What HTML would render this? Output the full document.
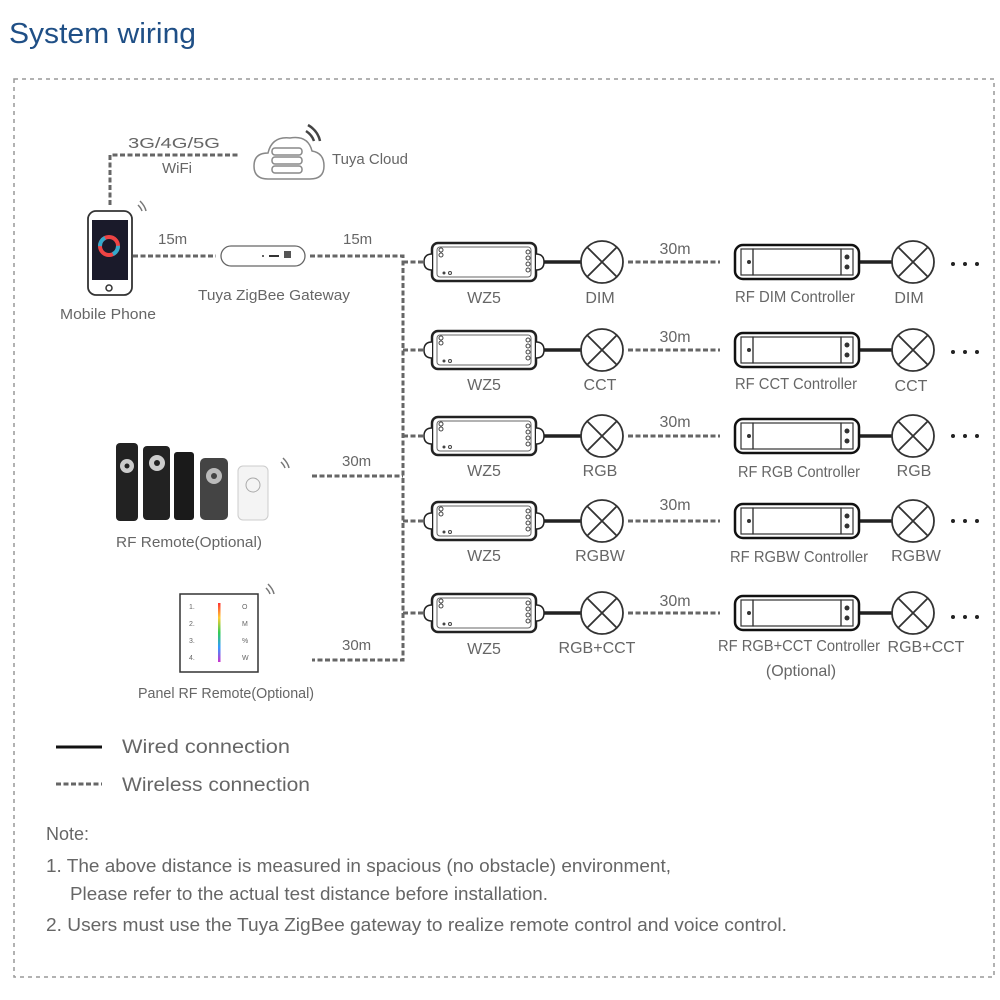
<!DOCTYPE html>
<html><head><meta charset="utf-8"><style>
html,body{margin:0;padding:0;background:#fff;}
svg{display:block;}
text{font-family:"Liberation Sans",sans-serif;fill:#666;}
</style></head><body>
<svg width="1000" height="1000" viewBox="0 0 1000 1000" xmlns="http://www.w3.org/2000/svg">
<defs>
<g id="wz5">
  <rect x="-52" y="-19" width="104" height="38" rx="6" fill="#fff" stroke="#222" stroke-width="2.5"/>
  <rect x="-47" y="-15" width="94" height="30" rx="3" fill="none" stroke="#666" stroke-width="1"/>
  <path d="M-52 -8 q-8 0 -8 8 q0 8 8 8" fill="#fff" stroke="#222" stroke-width="1.5"/>
  <path d="M52 -8 q8 0 8 8 q0 8 -8 8" fill="#fff" stroke="#222" stroke-width="1.5"/>
  <circle cx="-43" cy="-12" r="2" fill="none" stroke="#444"/><circle cx="-43" cy="-7" r="2" fill="none" stroke="#444"/>
  <circle cx="-40" cy="11" r="1.5" fill="#444"/><circle cx="-34" cy="11" r="1.5" fill="none" stroke="#444"/>
  <circle cx="44" cy="-10" r="2" fill="none" stroke="#444"/><circle cx="44" cy="-4" r="2" fill="none" stroke="#444"/><circle cx="44" cy="2" r="2" fill="none" stroke="#444"/><circle cx="44" cy="8" r="2" fill="none" stroke="#444"/>
</g>
<g id="lamp">
  <circle r="21" fill="#fff" stroke="#333" stroke-width="1.8"/>
  <path d="M-15 -15 L15 15 M15 -15 L-15 15" stroke="#333" stroke-width="1.8"/>
</g>
<g id="ctl">
  <rect x="-62" y="-17" width="124" height="34" rx="8" fill="#fff" stroke="#111" stroke-width="2.5"/>
  <rect x="-44" y="-13" width="88" height="26" fill="none" stroke="#333" stroke-width="1.2"/>
  <rect x="-56" y="-13" width="12" height="26" fill="none" stroke="#333" stroke-width="1.2"/>
  <rect x="44" y="-13" width="12" height="26" fill="none" stroke="#333" stroke-width="1.2"/>
  <circle cx="-48" cy="0" r="2" fill="#333"/>
  <circle cx="50" cy="-5" r="2.5" fill="#333"/><circle cx="50" cy="5" r="2.5" fill="#333"/>
</g>
</defs>

<text x="9" y="43" font-size="29" style="fill:#1f4f86" textLength="187" lengthAdjust="spacingAndGlyphs">System wiring</text>
<rect x="14" y="79" width="980" height="898" fill="none" stroke="#999" stroke-width="1.5" stroke-dasharray="4,4"/>

<!-- dashed connectors -->
<g stroke="#666" stroke-width="3" stroke-dasharray="5,2.5" fill="none">
  <path d="M110 205 L110 155 L240 155"/>
  <path d="M133 256 L216 256"/>
  <path d="M310 256 L403 256 L403 660 L312 660"/>
  <path d="M312 476 L403 476"/>
  <path d="M403 262 L425 262 M403 350 L425 350 M403 436 L425 436 M403 521 L425 521 M403 613 L425 613"/>
  <path d="M628 262 L720 262 M628 350 L720 350 M628 436 L720 436 M628 521 L720 521 M628 613 L720 613"/>
  <path d="M56 784 L102 784"/>
</g>

<!-- cloud -->
<g fill="none" stroke="#888" stroke-width="1.5">
  <path d="M268 179 q-14 0 -14 -13 q0 -13 14 -13 q4 -17 22 -15 q18 -3 22 13 q12 2 12 15 q0 13 -14 13 z"/>
  <rect x="272" y="148" width="30" height="7" rx="3"/><rect x="272" y="157" width="30" height="7" rx="3"/><rect x="272" y="166" width="30" height="7" rx="3"/>
  <path d="M306 131 q6 4 8 10 M308 125 q10 6 12 16" stroke="#444" stroke-width="2.5"/>
</g>
<text x="128" y="148" font-size="15" textLength="92" lengthAdjust="spacingAndGlyphs">3G/4G/5G</text>
<text x="162" y="173" font-size="15">WiFi</text>
<text x="332" y="164" font-size="15" textLength="76" lengthAdjust="spacingAndGlyphs">Tuya Cloud</text>

<!-- phone -->
<rect x="88" y="211" width="44" height="84" rx="8" fill="#fff" stroke="#333" stroke-width="1.8"/>
<rect x="92" y="220" width="36" height="60" fill="#1a1a2a"/>
<circle cx="109" cy="246" r="9" fill="none" stroke="#e44" stroke-width="4"/>
<circle cx="109" cy="246" r="9" fill="none" stroke="#3ac" stroke-width="4" stroke-dasharray="10,18"/>
<circle cx="109" cy="288" r="3" fill="none" stroke="#333" stroke-width="1.5"/>
<path d="M138 205 q3 3 4 6 M140 201 q5 5 6 10" stroke="#777" stroke-width="1.5" fill="none"/>
<text x="60" y="319" font-size="15" textLength="96" lengthAdjust="spacingAndGlyphs">Mobile Phone</text>
<text x="158" y="244" font-size="15">15m</text>
<text x="343" y="244" font-size="15">15m</text>

<!-- gateway -->
<rect x="221" y="246" width="84" height="20" rx="10" fill="#fff" stroke="#666" stroke-width="1.3"/>
<rect x="284" y="251" width="7" height="7" fill="#555"/>
<path d="M269 256 L279 256" stroke="#333" stroke-width="2"/><circle cx="263" cy="256" r="1" fill="#333"/>
<text x="198" y="300" font-size="15" textLength="152" lengthAdjust="spacingAndGlyphs">Tuya ZigBee Gateway</text>

<!-- rows -->
<g>
<use href="#wz5" x="484" y="262"/><use href="#wz5" x="484" y="350"/><use href="#wz5" x="484" y="436"/><use href="#wz5" x="484" y="521"/><use href="#wz5" x="484" y="613"/>
<g stroke="#222" stroke-width="3.5">
<path d="M544 262 H581 M544 350 H581 M544 436 H581 M544 521 H581 M544 613 H581"/>
<path d="M860 262 H892 M860 350 H892 M860 436 H892 M860 521 H892 M860 613 H892"/>
</g>
<use href="#lamp" x="602" y="262"/><use href="#lamp" x="602" y="350"/><use href="#lamp" x="602" y="436"/><use href="#lamp" x="602" y="521"/><use href="#lamp" x="602" y="613"/>
<use href="#ctl" x="797" y="262"/><use href="#ctl" x="797" y="350"/><use href="#ctl" x="797" y="436"/><use href="#ctl" x="797" y="521"/><use href="#ctl" x="797" y="613"/>
<use href="#lamp" x="913" y="262"/><use href="#lamp" x="913" y="350"/><use href="#lamp" x="913" y="436"/><use href="#lamp" x="913" y="521"/><use href="#lamp" x="913" y="613"/>
<g fill="#222">
<circle cx="953" cy="264" r="2"/><circle cx="965" cy="264" r="2"/><circle cx="977" cy="264" r="2"/>
<circle cx="953" cy="352" r="2"/><circle cx="965" cy="352" r="2"/><circle cx="977" cy="352" r="2"/>
<circle cx="953" cy="436" r="2"/><circle cx="965" cy="436" r="2"/><circle cx="977" cy="436" r="2"/>
<circle cx="953" cy="521" r="2"/><circle cx="965" cy="521" r="2"/><circle cx="977" cy="521" r="2"/>
<circle cx="953" cy="617" r="2"/><circle cx="965" cy="617" r="2"/><circle cx="977" cy="617" r="2"/>
</g>
</g>
<g font-size="16" text-anchor="middle">
<text x="484" y="303">WZ5</text><text x="484" y="390">WZ5</text><text x="484" y="476">WZ5</text><text x="484" y="561">WZ5</text><text x="484" y="654">WZ5</text>
<text x="600" y="303">DIM</text><text x="600" y="390">CCT</text><text x="600" y="476">RGB</text><text x="600" y="561">RGBW</text><text x="597" y="653">RGB+CCT</text>
<text x="675" y="254">30m</text><text x="675" y="342">30m</text><text x="675" y="427">30m</text><text x="675" y="510">30m</text><text x="675" y="606">30m</text>
<text x="795" y="302" textLength="120" lengthAdjust="spacingAndGlyphs">RF DIM Controller</text>
<text x="796" y="389" textLength="122" lengthAdjust="spacingAndGlyphs">RF CCT Controller</text>
<text x="799" y="477" textLength="122" lengthAdjust="spacingAndGlyphs">RF RGB Controller</text>
<text x="799" y="562" textLength="138" lengthAdjust="spacingAndGlyphs">RF RGBW Controller</text>
<text x="799" y="651" textLength="162" lengthAdjust="spacingAndGlyphs">RF RGB+CCT Controller</text>
<text x="801" y="676">(Optional)</text>
<text x="909" y="303">DIM</text><text x="911" y="391">CCT</text><text x="914" y="476">RGB</text><text x="916" y="561">RGBW</text><text x="926" y="652">RGB+CCT</text>
</g>

<!-- RF remotes -->
<g>
<rect x="116" y="443" width="22" height="78" rx="4" fill="#222"/><circle cx="127" cy="466" r="7" fill="#ccc"/><circle cx="127" cy="466" r="2.5" fill="#222"/>
<rect x="143" y="446" width="27" height="74" rx="4" fill="#222"/><circle cx="157" cy="463" r="8" fill="#ccc"/><circle cx="157" cy="463" r="3" fill="#222"/>
<rect x="174" y="452" width="20" height="68" rx="3" fill="#1a1a1a"/>
<rect x="200" y="458" width="28" height="62" rx="5" fill="#444"/><circle cx="214" cy="476" r="8" fill="#bbb"/><circle cx="214" cy="476" r="3" fill="#444"/>
<rect x="238" y="466" width="30" height="54" rx="5" fill="#f4f4f4" stroke="#ccc"/><circle cx="253" cy="485" r="7" fill="none" stroke="#aaa"/>
<path d="M281 462 q3 3 4 6 M283 458 q5 5 6 10" stroke="#777" stroke-width="1.5" fill="none"/>
</g>
<text x="116" y="547" font-size="15" textLength="146" lengthAdjust="spacingAndGlyphs">RF Remote(Optional)</text>
<text x="342" y="466" font-size="15">30m</text>

<!-- panel remote -->
<rect x="180" y="594" width="78" height="78" fill="#fff" stroke="#333" stroke-width="1.5"/>
<defs><linearGradient id="rb" x1="0" y1="0" x2="0" y2="1"><stop offset="0" stop-color="#f33"/><stop offset="0.25" stop-color="#fc3"/><stop offset="0.5" stop-color="#3c5"/><stop offset="0.75" stop-color="#39f"/><stop offset="1" stop-color="#c3c"/></linearGradient></defs>
<rect x="218" y="603" width="2.5" height="59" fill="url(#rb)"/>
<g font-size="7" style="fill:#333"><text x="189" y="609">1.</text><text x="189" y="626">2.</text><text x="189" y="643">3.</text><text x="189" y="660">4.</text>
<text x="242" y="609">O</text><text x="242" y="626">M</text><text x="242" y="643">%</text><text x="242" y="660">W</text></g>
<path d="M266 588 q3 3 4 6 M268 584 q5 5 6 10" stroke="#777" stroke-width="1.5" fill="none"/>
<text x="138" y="698" font-size="15" textLength="176" lengthAdjust="spacingAndGlyphs">Panel RF Remote(Optional)</text>
<text x="342" y="650" font-size="15">30m</text>

<!-- legend -->
<path d="M56 747 L102 747" stroke="#111" stroke-width="3"/>
<text x="122" y="753" font-size="19" textLength="168" lengthAdjust="spacingAndGlyphs">Wired connection</text>
<text x="122" y="791" font-size="19" textLength="188" lengthAdjust="spacingAndGlyphs">Wireless connection</text>

<g font-size="18">
<text x="46" y="840">Note:</text>
<text x="46" y="872" textLength="625" lengthAdjust="spacingAndGlyphs">1. The above distance is measured in spacious (no obstacle) environment,</text>
<text x="70" y="900" textLength="478" lengthAdjust="spacingAndGlyphs">Please refer to the actual test distance before installation.</text>
<text x="46" y="931" textLength="741" lengthAdjust="spacingAndGlyphs">2. Users must use the Tuya ZigBee gateway to realize remote control and voice control.</text>
</g>
</svg>
</body></html>
